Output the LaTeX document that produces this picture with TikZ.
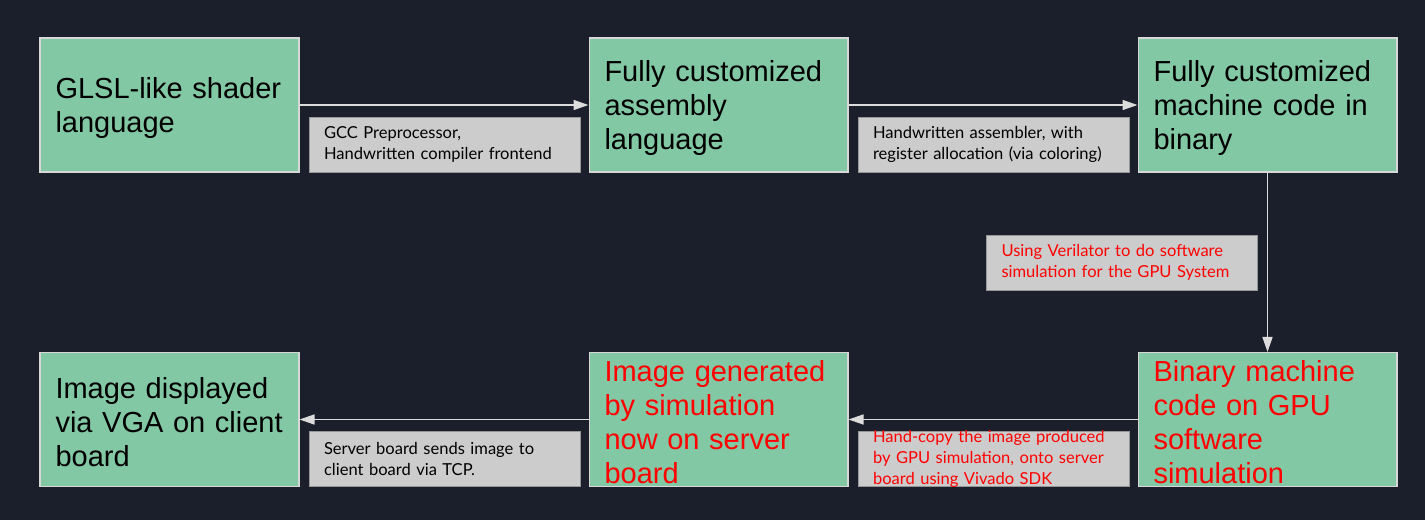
\documentclass[tikz,border=0pt]{standalone}
\usepackage{fontspec}
\setmainfont{Liberation Sans}
\newfontfamily\tagfont{Lato}
\usetikzlibrary{arrows.meta}

\definecolor{bgdark}{RGB}{27,31,43}
\definecolor{stagegreen}{RGB}{130,200,165}
\definecolor{stageedge}{RGB}{215,215,215}
\definecolor{taggray}{RGB}{204,204,204}
\definecolor{tagedge}{RGB}{150,150,150}
\definecolor{flowgray}{RGB}{220,220,220}

\begin{document}
\begin{tikzpicture}[x=0.02cm,y=-0.02cm,
    stage/.style={draw=stageedge, fill=stagegreen, line width=0.6pt,
        text width=4.56cm, minimum height=2.68cm, inner xsep=0.31cm,
        inner ysep=0pt, align=left, font=\fontsize{16.5}{19.35}\selectfont,
        execute at begin node={\rule{0pt}{15.2pt}}},
    tagbox/.style={draw=tagedge, fill=taggray, line width=0.4pt,
        minimum width=5.42cm, minimum height=1.1cm, inner sep=0pt},
    tagtext/.style={text width=4.82cm, align=left, inner sep=0pt,
        font=\tagfont\fontsize{9.4}{11.95}\selectfont},
    flow/.style={draw=flowgray, line width=0.85pt,
        -{Triangle[length=0.3cm,width=0.2cm]}}]

    \fill[bgdark] (0,0) rectangle (1425,520);

    % top row
    \node[stage] (glsl) at (169.5,105) {GLSL-like shader\\language};
    \node[stage] (asm) at (718.5,105) {Fully customized\\assembly\\language};
    \node[stage] (bin) at (1267.5,105) {Fully customized\\machine code in\\binary};

    % bottom row
    \node[stage, text=red] (gpusim) at (1267.5,419.5) {Binary machine\\code on GPU\\software\\simulation};
    \node[stage, text=red] (server) at (718.5,419.5) {Image generated\\by simulation\\now on server\\board};
    \node[stage] (client) at (169.5,419.5) {Image displayed\\via VGA on client\\board};

    \draw[flow] (glsl) -- (asm);
    \draw[flow] (asm) -- (bin);
    \draw[flow] (bin) -- (gpusim);
    \draw[flow] (gpusim) -- (server);
    \draw[flow] (server) -- (client);

    % labels on the arrows
    \node[tagbox] (gccbox) at (444.5,144.5) {};
    \node[tagtext] (gcc) at (gccbox) {GCC Preprocessor,\\Handwritten compiler frontend};
    \node[tagbox] (assemblerbox) at (993.5,144.5) {};
    \node[tagtext] (assembler) at (assemblerbox) {Handwritten assembler, with\\register allocation (via coloring)};
    \node[tagbox] (verilatorbox) at (1122,262.5) {};
    \node[tagtext, text=red] (verilator) at (verilatorbox) {Using Verilator to do software\\simulation for the GPU System};
    \node[tagbox] (vivadobox) at (993.5,459) {};
    \node[tagtext, text=red] (vivado) at (vivadobox) {Hand-copy the image produced\\by GPU simulation, onto server\\board using Vivado SDK};
    \node[tagbox] (tcpbox) at (444.5,459) {};
    \node[tagtext] (tcp) at (tcpbox) {Server board sends image to\\client board via TCP.};
\end{tikzpicture}
\end{document}
